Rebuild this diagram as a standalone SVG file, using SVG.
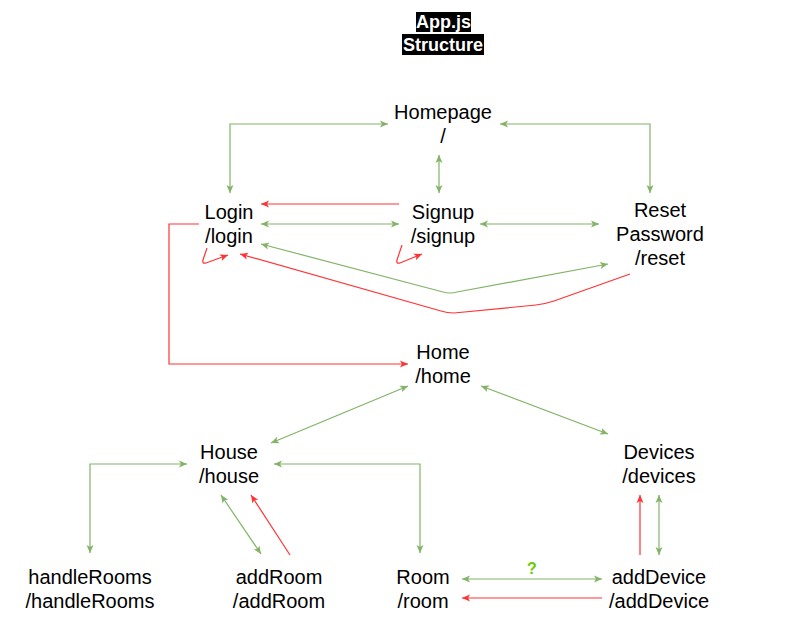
<svg xmlns="http://www.w3.org/2000/svg" width="800" height="625" viewBox="0 0 800 625">
  <style>
    .lbl { font-family: "Liberation Sans", Arial, Helvetica, sans-serif; font-size: 20px; fill: #000; text-anchor: middle; }
    .ttl { font-family: "Liberation Sans", Arial, Helvetica, sans-serif; font-size: 18px; font-weight: bold; fill: #fff; text-anchor: middle; }
    .g { fill: none; stroke: #82b366; stroke-width: 1.2; }
    .r { fill: none; stroke: #ff3333; stroke-width: 1.2; }
    .q { font-family: "Liberation Sans", Arial, Helvetica, sans-serif; font-size: 16px; font-weight: bold; fill: #66cc00; text-anchor: middle; }
  </style>
  <defs>
    <marker id="ag" viewBox="0 0 8 8" refX="8" refY="4" markerWidth="8" markerHeight="8" markerUnits="userSpaceOnUse" orient="auto-start-reverse">
      <path d="M0,0.5 L8,4 L0,7.5 L2,4 z" fill="#82b366"/>
    </marker>
    <marker id="ar" viewBox="0 0 8 8" refX="8" refY="4" markerWidth="8" markerHeight="8" markerUnits="userSpaceOnUse" orient="auto-start-reverse">
      <path d="M0,0.5 L8,4 L0,7.5 L2,4 z" fill="#ff3333"/>
    </marker>
  </defs>
  <rect width="800" height="625" fill="#ffffff"/>

  <g id="title">
    <rect x="416" y="12" width="55" height="20" fill="#000"/>
    <rect x="402" y="34" width="82" height="21" fill="#000"/>
    <text class="ttl" x="443.5" y="28">App.js</text>
    <text class="ttl" x="443" y="51">Structure</text>
  </g>

  <g id="connectors">
    <path class="g" d="M230,193 V124 H388" marker-start="url(#ag)" marker-end="url(#ag)"/>
    <path class="g" d="M650,193 V124 H500" marker-start="url(#ag)" marker-end="url(#ag)"/>
    <path class="g" d="M439,155 V193" marker-start="url(#ag)" marker-end="url(#ag)"/>
    <path class="r" d="M399,204 H261" marker-end="url(#ar)"/>
    <path class="g" d="M261,224 H399" marker-start="url(#ag)" marker-end="url(#ag)"/>
    <path class="g" d="M480,224 H599" marker-start="url(#ag)" marker-end="url(#ag)"/>
    <path class="g" d="M261,244 L443,292 Q450,294 457,292 L608,264" marker-start="url(#ag)" marker-end="url(#ag)"/>
    <path class="r" d="M630,274 L554,301 Q545,304 536,305 L454,313 Q447,313 441,311 L240,254" marker-end="url(#ar)"/>
    <path class="r" d="M207,248 L203,260 Q202,264 206,263 L228,255" marker-end="url(#ar)"/>
    <path class="r" d="M402,245 L397,260 Q396,264 400,263 L422,254" marker-end="url(#ar)"/>
    <path class="r" d="M199,224 H169 V364 H408" marker-end="url(#ar)"/>
    <path class="g" d="M408,386 L271,443" marker-start="url(#ag)" marker-end="url(#ag)"/>
    <path class="g" d="M481,386 L608,434" marker-start="url(#ag)" marker-end="url(#ag)"/>
    <path class="g" d="M187,464 H90 V553" marker-start="url(#ag)" marker-end="url(#ag)"/>
    <path class="g" d="M274,464 H420 V553" marker-start="url(#ag)" marker-end="url(#ag)"/>
    <path class="g" d="M221,495 L261,554" marker-start="url(#ag)" marker-end="url(#ag)"/>
    <path class="r" d="M290,555 L251,495" marker-end="url(#ar)"/>
    <path class="g" d="M462,579 H602" marker-start="url(#ag)" marker-end="url(#ag)"/>
    <path class="r" d="M602,598 H462" marker-end="url(#ar)"/>
    <path class="r" d="M640,555 V495" marker-end="url(#ar)"/>
    <path class="g" d="M659,495 V555" marker-start="url(#ag)" marker-end="url(#ag)"/>
    <text class="q" x="532" y="574">?</text>
  </g>

  <g id="homepage">
    <text class="lbl" x="443" y="119">Homepage</text>
    <text class="lbl" x="443" y="143">/</text>
  </g>
  <g id="login">
    <text class="lbl" x="229" y="219">Login</text>
    <text class="lbl" x="229" y="243">/login</text>
  </g>
  <g id="signup">
    <text class="lbl" x="443" y="219">Signup</text>
    <text class="lbl" x="443" y="243">/signup</text>
  </g>
  <g id="reset">
    <text class="lbl" x="660" y="217">Reset</text>
    <text class="lbl" x="660" y="241">Password</text>
    <text class="lbl" x="660" y="265">/reset</text>
  </g>
  <g id="home">
    <text class="lbl" x="443" y="359">Home</text>
    <text class="lbl" x="443" y="383">/home</text>
  </g>
  <g id="house">
    <text class="lbl" x="229" y="459">House</text>
    <text class="lbl" x="229" y="483">/house</text>
  </g>
  <g id="devices">
    <text class="lbl" x="659" y="459">Devices</text>
    <text class="lbl" x="659" y="483">/devices</text>
  </g>
  <g id="handleRooms">
    <text class="lbl" x="90" y="584">handleRooms</text>
    <text class="lbl" x="90" y="608">/handleRooms</text>
  </g>
  <g id="addRoom">
    <text class="lbl" x="279" y="584">addRoom</text>
    <text class="lbl" x="279" y="608">/addRoom</text>
  </g>
  <g id="room">
    <text class="lbl" x="423" y="584">Room</text>
    <text class="lbl" x="423" y="608">/room</text>
  </g>
  <g id="addDevice">
    <text class="lbl" x="659" y="584">addDevice</text>
    <text class="lbl" x="659" y="608">/addDevice</text>
  </g>
</svg>
